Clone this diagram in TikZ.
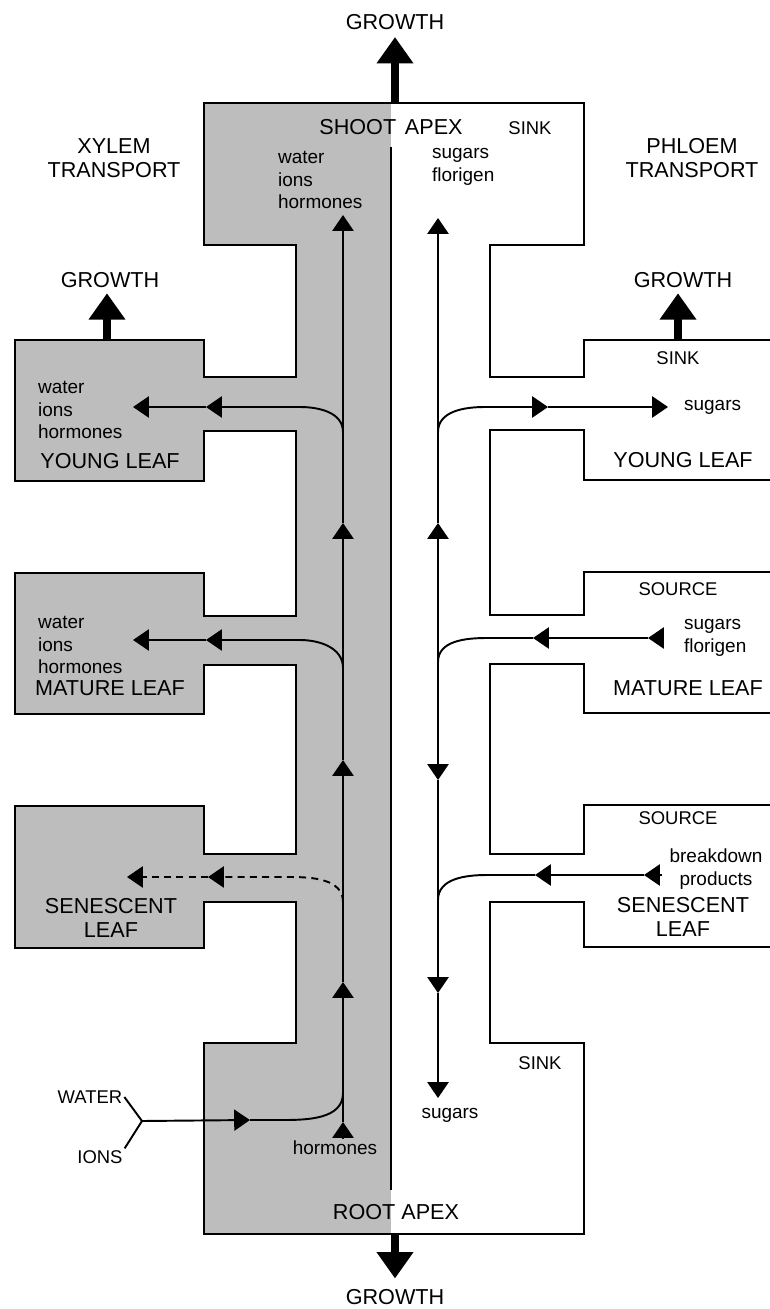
\documentclass[tikz,border=0pt]{standalone}
\usepackage{fontspec}
\setmainfont{Liberation Sans}
\usetikzlibrary{arrows.meta,positioning}
\definecolor{Stipple}{gray}{0.74}

\begin{document}
\begin{tikzpicture}[x=0.02cm,y=-0.02cm,
    outline/.style={line width=1.5pt,line join=miter},
    pipe/.style={line width=1.1pt},
    flow/.style={pipe,-{Triangle[length=9pt,width=12pt]}},
    growarrow/.style={line width=4pt,-{Triangle[length=15pt,width=20pt]}},
    lbl/.style={font=\fontsize{12.3}{13.5}\selectfont,align=center,inner sep=1pt},
    tag/.style={font=\fontsize{10.5}{12}\selectfont,inner sep=1pt},
    note/.style={font=\fontsize{10.8}{13}\selectfont,align=left,inner sep=1pt}]
  \useasboundingbox (0,0) rectangle (770,1309);
  % plant outline, xylem half shaded
  \draw[outline,path picture={\fill[Stipple] (0,0) rectangle (391,1309);}]
    (204,103) -- (584,103) -- (584,245) -- (490,245)
    -- (490,377) -- (584,377) -- (584,340) -- (785,340) -- (785,480) -- (584,480) -- (584,430) -- (490,430)
    -- (490,615) -- (584,615) -- (584,572) -- (785,572) -- (785,713) -- (584,713) -- (584,664) -- (490,664)
    -- (490,854) -- (584,854) -- (584,805) -- (785,805) -- (785,947) -- (584,947) -- (584,902) -- (490,902)
    -- (490,1043) -- (584,1043) -- (584,1234) -- (204,1234) -- (204,1043) -- (296,1043)
    -- (296,902) -- (204,902) -- (204,948) -- (15,948) -- (15,806) -- (204,806) -- (204,854) -- (296,854)
    -- (296,665) -- (204,665) -- (204,714) -- (15,714) -- (15,573) -- (204,573) -- (204,616) -- (296,616)
    -- (296,431) -- (204,431) -- (204,481) -- (15,481) -- (15,340) -- (204,340) -- (204,377) -- (296,377)
    -- (296,245) -- (204,245) -- cycle;
  \draw[outline] (391,147) -- (391,1190);

  % labels
  \node[lbl] (gtop) at (395,22) {GROWTH};
  \node[lbl] (xyl) at (114,158) {XYLEM\\TRANSPORT};
  \node[lbl] (phl) at (692,158) {PHLOEM\\TRANSPORT};
  \node[lbl] (shoot) at (391,127) {SHOOT\hspace{5pt}APEX};
  \node[tag] (ssink) at (530,128) {SINK};
  \node[note,anchor=west] (xtxt) at (276,180) {water\\ions\\hormones};
  \node[note,anchor=west] (ptxt) at (430,167) {sugars\\florigen};
  \node[lbl] (gyl) at (110,280) {GROWTH};
  \node[lbl] (gyr) at (683,280) {GROWTH};
  \node[note,anchor=west] (ylx) at (36,410) {water\\ions\\hormones};
  \node[lbl] (yl) at (110,461) {YOUNG LEAF};
  \node[tag] (yrs) at (678,358) {SINK};
  \node[note,anchor=west] (yrt) at (682,407) {sugars};
  \node[lbl] (yr) at (683,460) {YOUNG LEAF};
  \node[note,anchor=west] (mlx) at (36,645) {water\\ions\\hormones};
  \node[lbl] (ml) at (110,688) {MATURE LEAF};
  \node[tag] (mrs) at (678,589) {SOURCE};
  \node[note,anchor=west] (mrt) at (682,638) {sugars\\florigen};
  \node[lbl] (mr) at (688,688) {MATURE LEAF};
  \node[lbl] (sl) at (111,918) {SENESCENT\\LEAF};
  \node[tag] (srs) at (678,818) {SOURCE};
  \node[note,align=center] (srt) at (716,869) {breakdown\\products};
  \node[lbl] (sr) at (683,917) {SENESCENT\\LEAF};
  \node[tag] (rsink) at (540,1063) {SINK};
  \node[note] (rsug) at (450,1115) {sugars};
  \node[note] (horm) at (335,1148) {hormones};
  \node[tag] (water) at (90,1097) {WATER};
  \node[tag] (ions) at (100,1157) {IONS};
  \node[lbl] (root) at (396,1212) {ROOT APEX};
  \node[lbl] (gbot) at (395,1297) {GROWTH};

  % growth
  \coordinate (apexup) at (395,103);
  \coordinate (apexdn) at (395,1234);
  \coordinate (ylup) at (107,340);
  \coordinate (yrup) at (678,340);
  \draw[growarrow,shorten >=3pt] (apexup) -- (gtop.south);
  \draw[growarrow,shorten >=2pt] (ylup) -- (gyl.south -| ylup);
  \draw[growarrow,shorten >=2pt] (yrup) -- (gyr.south -| yrup);
  \draw[growarrow,shorten >=5pt] (apexdn) -- (gbot.north);

  % xylem
  \coordinate (fork) at (142,1121);
  \coordinate (wa) at (250,1120);
  \coordinate (wc) at (283,1120);
  \coordinate (xj) at (343,1093);
  \coordinate (xh) at (343,1122);
  \coordinate (xu1) at (343,982);
  \coordinate (xu2) at (343,760);
  \coordinate (xu3) at (343,523);
  \coordinate (xtop) at (343,215);
  \draw[pipe] (water.east) -- (fork) -- (ions.north east);
  \draw[flow] (fork) -- (wa);
  \draw[pipe] (wa) -- (wc) to[out=0,in=-90] (xj);
  \draw[flow] (horm.north -| xh) -- (xh);
  \draw[pipe] (xh) -- (xj);
  \foreach \u/\v in {xj/xu1,xu1/xu2,xu2/xu3,xu3/xtop}\draw[flow] (\u)--(\v);
  \coordinate (xyj) at (343,432);
  \coordinate (xyc) at (300,407);
  \coordinate (xya) at (206,407);
  \coordinate (xyb) at (133,407);
  \coordinate (xmj) at (343,668);
  \coordinate (xmc) at (300,640);
  \coordinate (xma) at (206,640);
  \coordinate (xmb) at (133,640);
  \coordinate (xsj) at (343,902);
  \coordinate (xsc) at (290,877);
  \coordinate (xsa) at (208,877);
  \coordinate (xsb) at (127,877);
  \draw[flow] (xyj) to[out=90,in=0] (xyc) -- (xya);
  \draw[flow] (xya) -- (xyb);
  \draw[flow] (xmj) to[out=90,in=0] (xmc) -- (xma);
  \draw[flow] (xma) -- (xmb);
  \draw[flow,dash pattern=on 4pt off 3pt] (xsj) to[out=90,in=0] (xsc) -- (xsa);
  \draw[flow,dash pattern=on 4pt off 3pt] (xsa) -- (xsb);

  % phloem
  \coordinate (pmj) at (438,662);
  \coordinate (pu1) at (438,523);
  \coordinate (ptop) at (438,218);
  \coordinate (pd1) at (438,780);
  \coordinate (pd2) at (438,993);
  \coordinate (pbot) at (438,1098);
  \foreach \u/\v in {pmj/pu1,pu1/ptop,pmj/pd1,pd1/pd2,pd2/pbot}\draw[flow] (\u)--(\v);
  \coordinate (pyj) at (438,432);
  \coordinate (pyc) at (485,407);
  \coordinate (pya) at (548,407);
  \coordinate (pyb) at (668,407);
  \draw[flow] (pyj) to[out=90,in=180] (pyc) -- (pya);
  \draw[flow] (pya) -- (pyb);
  \coordinate (pms) at (664,638);
  \coordinate (pma) at (648,638);
  \coordinate (pmb) at (533,638);
  \coordinate (pmc) at (487,638);
  \coordinate (pss) at (662,875);
  \coordinate (psa) at (644,875);
  \coordinate (psb) at (535,875);
  \coordinate (psc) at (487,875);
  \coordinate (psj) at (438,900);
  \foreach \u/\v in {pms/pma,pma/pmb,pss/psa,psa/psb}\draw[flow] (\u)--(\v);
  \draw[pipe] (pmb) -- (pmc) to[out=180,in=90] (pmj);
  \draw[pipe] (psb) -- (psc) to[out=180,in=90] (psj);
\end{tikzpicture}
\end{document}
